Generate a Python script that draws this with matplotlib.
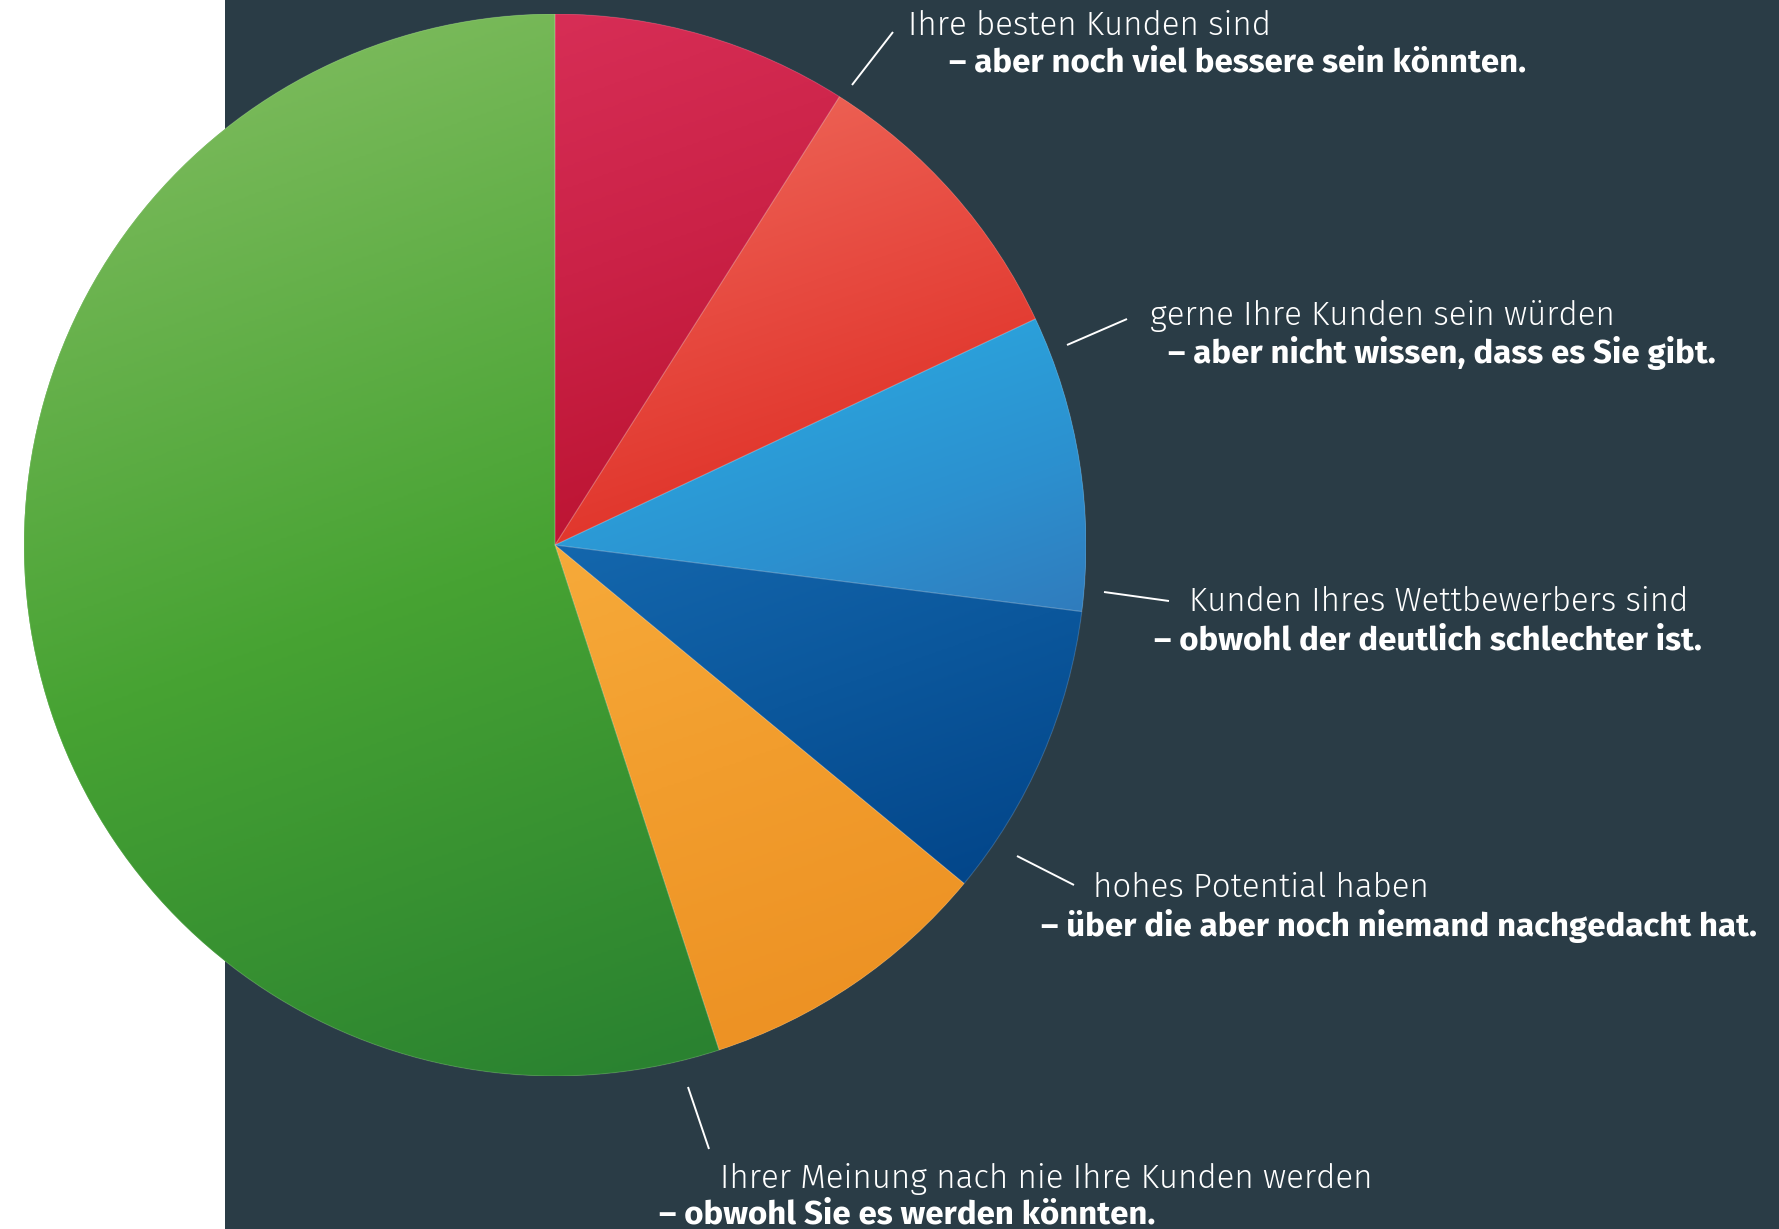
import numpy as np
import matplotlib
matplotlib.use("Agg")
import matplotlib.pyplot as plt
from matplotlib.colors import LinearSegmentedColormap
from matplotlib.patches import Rectangle, Wedge

# Anteile, im Uhrzeigersinn ab 12 Uhr
shares = [9, 9, 9, 9, 9, 55]
light_colors = ["#d72e56", "#ec5f52", "#2ba0da", "#1467ad", "#f6aa3a", "#78b959"]
mid_colors = ["#cb2247", "#e74a40", "#2c90cf", "#0b579c", "#f29d2d", "#47a333"]
dark_colors = ["#bd1534", "#e1372d", "#307cbd", "#03468a", "#ed9224", "#2a8230"]

labels_top = [
    "Ihre besten Kunden sind",
    "gerne Ihre Kunden sein würden",
    "Kunden Ihres Wettbewerbers sind",
    "hohes Potential haben",
    "Ihrer Meinung nach nie Ihre Kunden werden",
]
labels_bold = [
    "– aber noch viel bessere sein könnten.",
    "– aber nicht wissen, dass es Sie gibt.",
    "– obwohl der deutlich schlechter ist.",
    "– über die aber noch niemand nachgedacht hat.",
    "– obwohl Sie es werden könnten.",
]

W, H = 1779, 1229
BG = "#2a3c46"
FONT = ["Fira Sans", "DejaVu Sans"]
FS = 23.85

# layout in pixels (x left, baseline y) for the two lines of each label
top_pos = [(908, 35), (1150, 325), (1189, 611), (1093, 897), (720, 1188)]
bold_pos = [(949, 72), (1168, 363), (1154, 649), (1041, 936), (659, 1223)]
leaders = [((852, 85), (893, 32)), ((1067, 345), (1127, 319)), ((1104, 592), (1169, 601)),
           ((1017, 856), (1074, 885)), ((688, 1087), (709, 1149))]

fig = plt.figure(figsize=(W / 100, H / 100), dpi=100)
fig.patch.set_facecolor("white")
fig.add_artist(Rectangle((225 / W, 0), 1 - 225 / W, 1, transform=fig.transFigure,
                         facecolor=BG, edgecolor="none", zorder=0))

# pie: centre (555, 545) px, radius 531 px
cx, cy, r = 555, 545, 531
ax = fig.add_axes([(cx - r) / W, (H - cy - r) / H, 2 * r / W, 2 * r / H])
wedges, _ = ax.pie(shares, colors=mid_colors, startangle=90, counterclock=False,
                   wedgeprops=dict(linewidth=0))
ax.set_aspect("equal")
ax.patch.set_facecolor("none")

# soft linear shading inside each slice
d = np.array([0.35, -1.0])
d /= np.linalg.norm(d)
gx, gy = np.meshgrid(np.linspace(-1, 1, 500), np.linspace(-1, 1, 500))
proj = gx * d[0] + gy * d[1]
for w, lc, mc, dc in zip(wedges, light_colors, mid_colors, dark_colors):
    ang = np.radians(np.linspace(w.theta1, w.theta2, 60))
    px = np.append(w.center[0] + w.r * np.cos(ang), w.center[0])
    py = np.append(w.center[1] + w.r * np.sin(ang), w.center[1])
    p = px * d[0] + py * d[1]
    t = np.clip((proj - p.min()) / (p.max() - p.min()), 0, 1)
    cmap = LinearSegmentedColormap.from_list("g", [lc, mc, dc])
    im = ax.imshow(t, extent=(-1, 1, -1, 1), origin="lower", cmap=cmap, vmin=0, vmax=1,
                   interpolation="bilinear", zorder=2)
    im.set_clip_path(w)
    ax.add_patch(Wedge(w.center, w.r, w.theta1, w.theta2, fill=False,
                       edgecolor=(1, 1, 1, 0.15), linewidth=0.8, zorder=3))
ax.set_xlim(-1, 1)
ax.set_ylim(-1, 1)

# overlay in pixel coordinates for labels
ov = fig.add_axes([0, 0, 1, 1])
ov.set_xlim(0, W)
ov.set_ylim(H, 0)
ov.axis("off")
for (p0, p1) in leaders:
    ov.plot([p0[0], p1[0]], [p0[1], p1[1]], color="white", linewidth=1.4, solid_capstyle="butt")
for txt, (x, y) in zip(labels_top, top_pos):
    ov.text(x, y, txt, color="white", fontsize=FS, family=FONT, weight=300, va="baseline", ha="left")
for txt, (x, y) in zip(labels_bold, bold_pos):
    ov.text(x, y, txt, color="white", fontsize=FS, family=FONT, weight="bold", va="baseline", ha="left")

fig.savefig("out.png", dpi=100)
